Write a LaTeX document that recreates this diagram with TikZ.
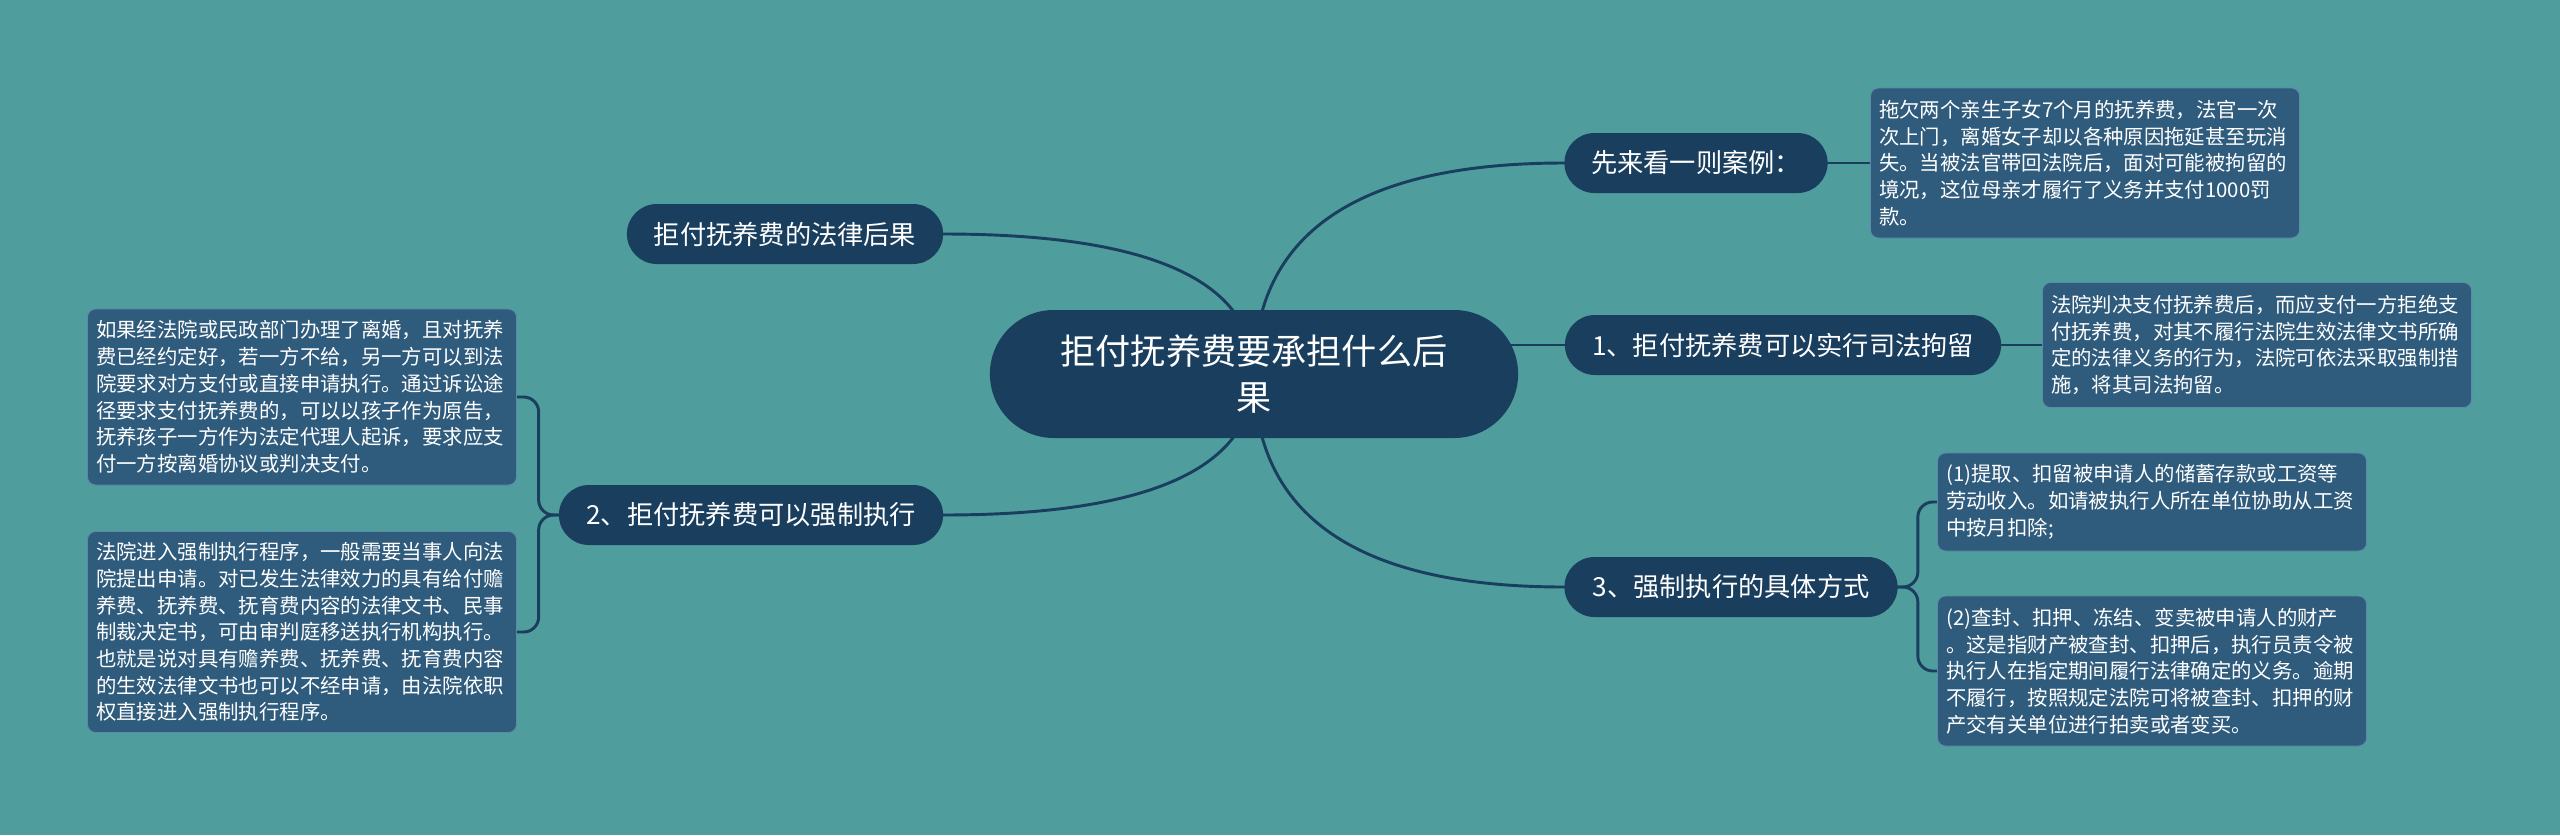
\documentclass[tikz,border=0pt]{standalone}
\usepackage{fontspec}
\setmainfont{Noto Sans CJK SC}
\usetikzlibrary{backgrounds,calc,shapes.misc}
\definecolor{mmTeal}{HTML}{4F9D9D}
\definecolor{mmNavy}{HTML}{1A3E5E}
\definecolor{mmLeaf}{HTML}{2F5B7C}
\definecolor{mmLeafEdge}{HTML}{5B8BA8}
\tikzset{
  mm link/.style={draw=mmNavy, line width=2.5pt, line cap=round},
  mm root/.style={
    rounded rectangle, fill=mmNavy, text=white, align=center,
    font=\fontsize{30}{39.3}\selectfont,
    minimum width=16.08cm, minimum height=3.84cm
  },
  mm topic/.style={
    rounded rectangle, fill=mmNavy, text=white,
    font=\fontsize{22.4}{27}\selectfont,
    minimum height=1.8cm
  },
  mm leaf/.style={
    rectangle, rounded corners=.24cm, fill=mmLeaf, draw=mmLeafEdge,
    line width=.8pt, text=white, align=left,
    font=\fontsize{17.4}{22.8}\selectfont,
    text width=12.35cm, inner xsep=.26cm, inner ysep=.1cm
  }
}

\begin{document}
\begin{tikzpicture}[x=.03cm,y=-.03cm]
  \useasboundingbox (0,0) rectangle (2560,835);

  % centre
  \node[mm root] (root) at (1254,374) {拒付抚养费要承担什么后\\果};

  % right side
  \node[mm topic, minimum width=8.13cm] (case) at (1696,163) {先来看一则案例：};
  \node[mm topic, minimum width=13.32cm] (detain) at (1783,345) {1、拒付抚养费可以实行司法拘留};
  \node[mm topic, minimum width=10.23cm] (ways) at (1731,587) {3、强制执行的具体方式};

  \node[mm leaf, minimum height=4.5cm] (caseleaf) at (2085,163)
    {拖欠两个亲生子女7个月的抚养费，法官一次\\
     次上门，离婚女子却以各种原因拖延甚至玩消\\
     失。当被法官带回法院后，面对可能被拘留的\\
     境况，这位母亲才履行了义务并支付1000罚\\
     款。};
  \node[mm leaf, minimum height=3.75cm] (detainleaf) at (2257,345)
    {法院判决支付抚养费后，而应支付一方拒绝支\\
     付抚养费，对其不履行法院生效法律文书所确\\
     定的法律义务的行为，法院可依法采取强制措\\
     施，将其司法拘留。};
  \node[mm leaf, minimum height=2.94cm] (waysa) at (2152,502)
    {(1)提取、扣留被申请人的储蓄存款或工资等\\
     劳动收入。如请被执行人所在单位协助从工资\\
     中按月扣除;};
  \node[mm leaf, minimum height=4.5cm] (waysb) at (2152,671)
    {(2)查封、扣押、冻结、变卖被申请人的财产\\
     。这是指财产被查封、扣押后，执行员责令被\\
     执行人在指定期间履行法律确定的义务。逾期\\
     不履行，按照规定法院可将被查封、扣押的财\\
     产交有关单位进行拍卖或者变买。};

  % left side
  \node[mm topic, minimum width=9.72cm] (lawres) at (785,234) {拒付抚养费的法律后果};
  \node[mm topic, minimum width=11.76cm] (enforce) at (751,515) {2、拒付抚养费可以强制执行};

  \node[mm leaf, minimum height=5.28cm] (enforcea) at (302,397)
    {如果经法院或民政部门办理了离婚，且对抚养\\
     费已经约定好，若一方不给，另一方可以到法\\
     院要求对方支付或直接申请执行。通过诉讼途\\
     径要求支付抚养费的，可以以孩子作为原告，\\
     抚养孩子一方作为法定代理人起诉，要求应支\\
     付一方按离婚协议或判决支付。};
  \node[mm leaf, minimum height=6.03cm] (enforceb) at (302,632)
    {法院进入强制执行程序，一般需要当事人向法\\
     院提出申请。对已发生法律效力的具有给付赡\\
     养费、抚养费、抚育费内容的法律文书、民事\\
     制裁决定书，可由审判庭移送执行机构执行。\\
     也就是说对具有赡养费、抚养费、抚育费内容\\
     的生效法律文书也可以不经申请，由法院依职\\
     权直接进入强制执行程序。};

  \begin{scope}[on background layer]
    \fill[mmTeal] (0,0) rectangle (2560,835);

    \coordinate (qcase) at (root.center |- case.west);
    \coordinate (qways) at (root.center |- ways.west);
    \coordinate (qlawres) at (root.center |- lawres.east);
    \coordinate (qenforce) at (root.center |- enforce.east);

    \draw[mm link] (root.center)
      .. controls ($(root.center)!2/3!(qcase)$) and ($(case.west)!2/3!(qcase)$) .. (case.west);
    \draw[mm link] (root.center)
      .. controls ($(root.center)!2/3!(qways)$) and ($(ways.west)!2/3!(qways)$) .. (ways.west);
    \draw[mm link] (root.center)
      .. controls ($(root.center)!2/3!(qlawres)$) and ($(lawres.east)!2/3!(qlawres)$) .. (lawres.east);
    \draw[mm link] (root.center)
      .. controls ($(root.center)!2/3!(qenforce)$) and ($(enforce.east)!2/3!(qenforce)$) .. (enforce.east);
    \draw[mm link] (root.center |- detain.west) -- (detain.west);

    \draw[mm link] (case.east) -- (caseleaf.west);
    \draw[mm link] (detain.east) -- (detainleaf.west);
    \draw[mm link, rounded corners=.45cm] (ways.east) -- ++(20,0) |- (waysa.west);
    \draw[mm link, rounded corners=.45cm] (ways.east) -- ++(20,0) |- (waysb.west);
    \draw[mm link, rounded corners=.45cm] (enforce.west) -- ++(-20,0) |- (enforcea.east);
    \draw[mm link, rounded corners=.45cm] (enforce.west) -- ++(-20,0) |- (enforceb.east);
  \end{scope}
\end{tikzpicture}
\end{document}
